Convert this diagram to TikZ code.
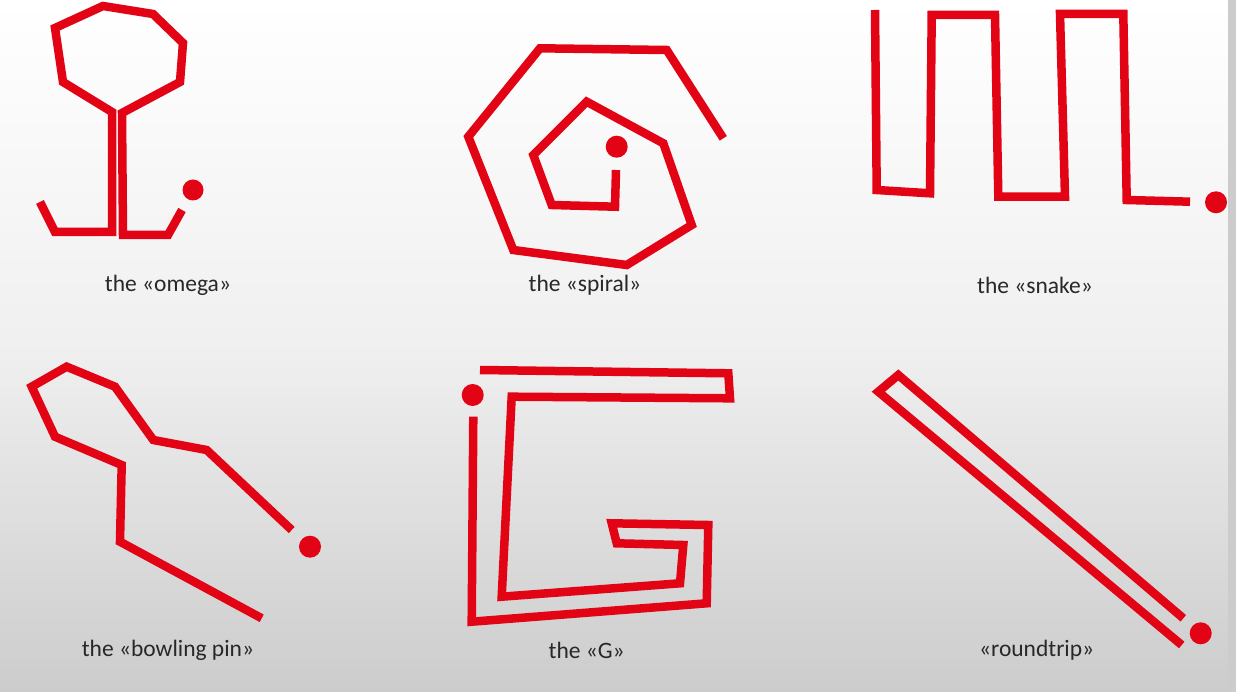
\documentclass[tikz,border=0pt]{standalone}
\usepackage{fontspec}
\setmainfont{Carlito}
\definecolor{pathred}{RGB}{226,4,20}
\definecolor{labelgray}{RGB}{40,40,40}
\begin{document}
\begin{tikzpicture}[x=1pt,y=-1pt,
  route/.style={draw=pathred,line width=8.5pt,line join=miter,line cap=butt},
  goal/.style={fill=pathred},
  caption/.style={text=labelgray,font=\fontsize{23.5}{28}\selectfont,inner sep=0pt}]
\useasboundingbox (0,0) rectangle (1236,692);
\shade[top color=white,bottom color=black!20,middle color=black!6] (0,0) rectangle (1236,692);
\fill[black!20] (1228,0) rectangle (1236,692);
% omega
\draw[route] (40,202) -- (55,232) -- (112,232) -- (112,112) -- (63,82) -- (55,28) -- (103,6) -- (153,14) -- (183,43) -- (180,82) -- (122,113) -- (123,235) -- (168,235) -- (182,210);
\fill[goal] (193,190) circle (10.5);
\node[caption] (omega) at (168,285) {the «omega»};
% spiral
\draw[route] (723.3,138.3) -- (666.7,50) -- (540,48.3) -- (468.3,136.7) -- (513.3,250) -- (626.7,265) -- (691.7,225) -- (663.3,143.3) -- (586.7,101.7) -- (533.3,155) -- (551.7,205) -- (615,206.7) -- (616,170);
\fill[goal] (616.7,146.7) circle (11);
\node[caption] (spiral) at (585,285) {the «spiral»};
% snake
\draw[route] (875,10) -- (876.7,190) -- (930,193.3) -- (931.7,15) -- (995,15) -- (998.3,196.7) -- (1065,196.7) -- (1060,14) -- (1123.3,14) -- (1126.7,200) -- (1190,201.7);
\fill[goal] (1216,202.3) circle (11);
\node[caption] (snake) at (1035,285) {the «snake»};
% bowling pin
\draw[route] (261.7,618.3) -- (120,541.7) -- (121.7,465) -- (55,436.7) -- (31.7,386.7) -- (66.7,366.7) -- (115,386.7) -- (153.3,440) -- (206.7,450) -- (291.7,530);
\fill[goal] (310,546.7) circle (11);
\node[caption] (pin) at (168,650) {the «bowling pin»};
% G
\draw[route] (473.3,416.7) -- (471.7,621.7) -- (706.7,603.3) -- (708.3,525) -- (611.7,523.3) -- (616.7,543.3) -- (683.3,545) -- (680,583.3) -- (501.7,596.7) -- (511.7,396.7) -- (730,398.3) -- (728.3,373.3) -- (480,370);
\fill[goal] (472.7,395) circle (11);
\node[caption] (G) at (586.7,650) {the «G»};
% roundtrip
\draw[route] (1183.3,618.3) -- (898.3,375) -- (878.3,391.7) -- (1181.7,645);
\fill[goal] (1200.7,633.3) circle (11);
\node[caption] (round) at (1036.7,650) {«roundtrip»};
\end{tikzpicture}
\end{document}
